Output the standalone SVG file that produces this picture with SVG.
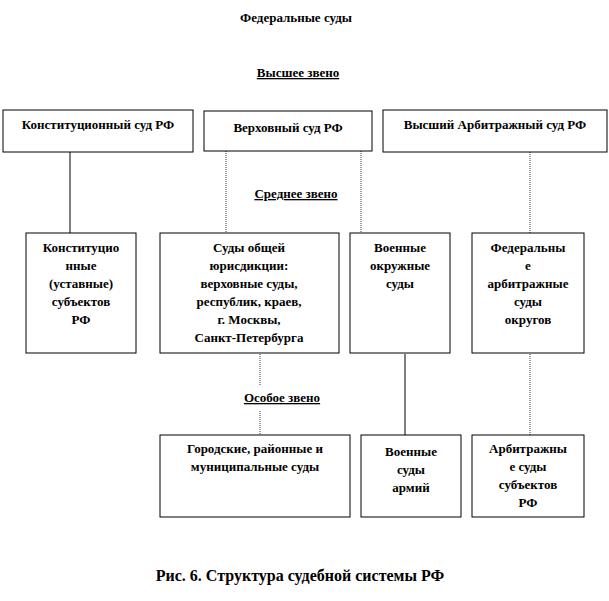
<svg xmlns="http://www.w3.org/2000/svg" width="609" height="601" viewBox="0 0 609 601">
<style>
.b{fill:#fff;stroke:#000;stroke-width:1}
.s{fill:#777}
text{font-family:"Liberation Serif",serif;font-weight:bold;font-size:13px;text-anchor:middle}
.h{text-decoration:underline}
.l{stroke:#000;stroke-width:1}
.d{stroke:#666;stroke-width:1.3;stroke-dasharray:1 1}
</style>
<rect width="609" height="601" fill="#fff"/>
<text x="296" y="22">Федеральные суды</text>
<text x="298" y="77" class="h">Высшее звено</text>
<text x="296" y="198" class="h">Среднее звено</text>
<text x="282" y="402" class="h">Особое звено</text>
<text x="300" y="581" style="font-size:16px">Рис. 6. Структура судебной системы РФ</text>
<g id="connectors">
<line class="l" x1="70" y1="152" x2="70" y2="233"/>
<line class="d" x1="226" y1="151" x2="226" y2="233"/>
<line class="d" x1="361" y1="151" x2="361" y2="233"/>
<line class="d" x1="530" y1="152" x2="530" y2="233"/>
<line class="d" x1="260" y1="354" x2="260" y2="385"/>
<line class="d" x1="260" y1="411" x2="260" y2="435"/>
<line class="l" x1="405" y1="354" x2="405" y2="435"/>
<line class="d" x1="530" y1="354" x2="530" y2="435"/>
</g>
<g id="n1"><rect class="b" x="3" y="110" width="190" height="42"/><text x="98" y="129">Конституционный суд РФ</text></g>
<g id="n2"><rect class="b" x="204" y="111" width="168" height="40"/><text x="288" y="132">Верховный суд РФ</text></g>
<g id="n3"><rect class="b" x="383" y="110" width="224" height="42"/><text x="495" y="129">Высший Арбитражный суд РФ</text></g>
<g id="n4"><rect class="b" x="26" y="233" width="110" height="120"/><text x="81" y="252">Конституцио</text><text x="81" y="270">нные</text><text x="81" y="288">(уставные)</text><text x="81" y="306">субъектов</text><text x="81" y="324">РФ</text></g>
<g id="n5"><rect class="b" x="160" y="233" width="179" height="120"/><text x="249" y="252">Суды общей</text><text x="249" y="270">юрисдикции:</text><text x="249" y="288">верховные суды,</text><text x="249" y="306">республик, краев,</text><text x="249" y="324">г. Москвы,</text><text x="249" y="342">Санкт-Петербурга</text></g>
<g id="n6"><rect class="b" x="350" y="233" width="100" height="120"/><text x="400" y="252">Военные</text><text x="400" y="270">окружные</text><text x="400" y="288">суды</text></g>
<g id="n7"><rect class="b" x="472" y="233" width="112" height="120"/><text x="528" y="252">Федеральны</text><text x="528" y="270">е</text><text x="528" y="288">арбитражные</text><text x="528" y="306">суды</text><text x="528" y="324">округов</text></g>
<g id="n8"><rect class="b" x="160" y="435" width="190" height="82"/><text x="255" y="453">Городские, районные и</text><text x="255" y="471">муниципальные суды</text></g>
<g id="n9"><rect class="b" x="361" y="435" width="100" height="82"/><text x="411" y="456">Военные</text><text x="411" y="474">суды</text><text x="411" y="492">армий</text></g>
<g id="n10"><rect class="b" x="472" y="435" width="112" height="82"/><text x="528" y="453">Арбитражны</text><text x="528" y="471">е суды</text><text x="528" y="489">субъектов</text><text x="528" y="507">РФ</text></g>
</svg>
